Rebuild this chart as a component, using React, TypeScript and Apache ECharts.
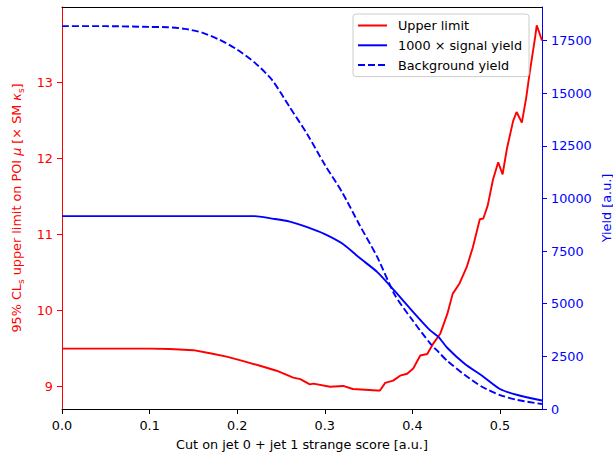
import React, { useEffect, useRef } from "react";
import * as echarts from "echarts";

// x positions (cut value) for the yield curves
const cutX = [0, 0.05, 0.1, 0.12, 0.14, 0.16, 0.18, 0.2, 0.22, 0.24, 0.26, 0.28, 0.3, 0.32, 0.34, 0.36, 0.38, 0.4, 0.42, 0.43, 0.44, 0.46, 0.48, 0.5, 0.52, 0.548];
const signalYield = [9160, 9160, 9160, 9160, 9160, 9160, 9160, 9160, 9160, 9041, 8899, 8638, 8306, 7855, 7166, 6502, 5600, 4651, 3749, 3417, 2895, 2136, 1566, 949, 664, 403];
const backgroundYield = [18180, 18180, 18144, 18130, 18054, 17873, 17532, 17067, 16450, 15614, 14333, 13052, 11600, 10280, 8714, 7214, 5410, 4224, 3132, 2700, 2278, 1614, 1044, 664, 427, 237];

// x positions and values of the upper limit
const limitX = [0, 0.05, 0.1, 0.123, 0.15, 0.169, 0.188, 0.206, 0.226, 0.245, 0.264, 0.272, 0.283, 0.287, 0.306, 0.321, 0.332, 0.36, 0.363, 0.369, 0.378, 0.386, 0.394, 0.401, 0.409, 0.417, 0.424, 0.432, 0.44, 0.446, 0.454, 0.462, 0.469, 0.477, 0.481, 0.486, 0.492, 0.498, 0.503, 0.508, 0.515, 0.519, 0.525, 0.53, 0.534, 0.54, 0.542, 0.548];
const upperLimit = [9.5, 9.5, 9.5, 9.495, 9.48, 9.44, 9.395, 9.34, 9.275, 9.21, 9.12, 9.1, 9.03, 9.04, 9.0, 9.01, 8.97, 8.95, 8.95, 9.05, 9.08, 9.145, 9.17, 9.24, 9.41, 9.43, 9.57, 9.7, 9.96, 10.22, 10.36, 10.57, 10.83, 11.2, 11.21, 11.38, 11.72, 11.95, 11.79, 12.13, 12.49, 12.61, 12.47, 12.8, 13.13, 13.58, 13.75, 13.55];

const xTicks = [0, 0.1, 0.2, 0.3, 0.4, 0.5];
const leftTicks = [9, 10, 11, 12, 13];
const rightTicks = [0, 2500, 5000, 7500, 10000, 12500, 15000, 17500];

const FONT = "DejaVu Sans";
const FS = 12.8;
const RED = "#ff0000";
const BLUE = "#0000ff";

export default function App() {
  const ref = useRef<HTMLDivElement>(null);
  useEffect(() => {
    if (!ref.current) return;
    const chart = echarts.init(ref.current, undefined, { renderer: "svg" });
    chart.setOption({
      animation: false,
      backgroundColor: "#ffffff",
      grid: { left: 62, right: 71, top: 7, bottom: 47, show: false, containLabel: false, outerBoundsMode: "none" },
      legend: {
        orient: "vertical",
        left: 353,
        top: 14,
        itemWidth: 29,
        itemHeight: 14,
        itemGap: 6.8,
        padding: [5, 7, 5, 4],
        backgroundColor: "rgba(255,255,255,0.8)",
        borderColor: "#cccccc",
        borderWidth: 1,
        borderRadius: 3,
        selectedMode: false,
        itemStyle: { color: "rgba(0,0,0,0)", borderWidth: 0, opacity: 0 },
        textStyle: { fontSize: FS, fontFamily: FONT, color: "#000", padding: [0, 0, 0, 6] },
        data: ["Upper limit", "1000 × signal yield", "Background yield"],
      },
      graphic: [
        {
          type: "text",
          x: 606,
          y: 208,
          rotation: Math.PI / 2,
          style: {
            text: "Yield [a.u.]",
            fill: BLUE,
            fontSize: FS,
            fontFamily: FONT,
            align: "center",
            verticalAlign: "middle",
          },
        },
      ],
      xAxis: [
        {
          type: "value",
          min: 0,
          max: 0.548,
          position: "bottom",
          axisLine: { show: true, onZero: false, lineStyle: { color: "#000", width: 1 } },
          axisTick: { show: true, length: 5, customValues: xTicks, lineStyle: { color: "#000" } },
          axisLabel: {
            customValues: xTicks,
            formatter: (v: number) => v.toFixed(1),
            color: "#000",
            fontSize: FS,
            fontFamily: FONT,
            margin: 10,
          },
          splitLine: { show: false },
          name: "Cut on jet 0 + jet 1 strange score [a.u.]",
          nameLocation: "middle",
          nameGap: 29,
          nameTextStyle: { color: "#000", fontSize: FS, fontFamily: FONT },
        },
        {
          type: "value",
          min: 0,
          max: 0.548,
          position: "top",
          axisLine: { show: true, onZero: false, lineStyle: { color: "#000", width: 1 } },
          axisTick: { show: false },
          axisLabel: { show: false },
          splitLine: { show: false },
        },
      ],
      yAxis: [
        {
          type: "value",
          position: "left",
          min: 8.707,
          max: 13.99,
          axisLine: { show: true, onZero: false, lineStyle: { color: RED, width: 1 } },
          axisTick: { show: true, length: 5, customValues: leftTicks, lineStyle: { color: RED } },
          axisLabel: {
            customValues: leftTicks,
            color: RED,
            fontSize: FS,
            fontFamily: FONT,
            margin: 9,
          },
          splitLine: { show: false },
          name: "95% CL{s|s} upper limit on POI {i|μ} [× SM {i|κ}{s|s}]",
          nameLocation: "middle",
          nameRotate: 90,
          nameGap: 35,
          nameTextStyle: {
            color: RED,
            fontSize: FS,
            fontFamily: FONT,
            lineHeight: 18,
            rich: {
              s: { color: RED, fontSize: 9, fontFamily: FONT, lineHeight: 9, verticalAlign: "bottom" },
              i: { color: RED, fontSize: FS, fontFamily: FONT, fontStyle: "italic", lineHeight: 18 },
            },
          },
        },
        {
          type: "value",
          position: "right",
          min: 0,
          max: 19090,
          axisLine: { show: true, onZero: false, lineStyle: { color: BLUE, width: 1 } },
          axisTick: { show: true, length: 5, customValues: rightTicks, lineStyle: { color: BLUE } },
          axisLabel: {
            customValues: rightTicks,
            formatter: (v: number) => String(v),
            color: BLUE,
            fontSize: FS,
            fontFamily: FONT,
            margin: 9,
          },
          splitLine: { show: false },
        },
      ],
      series: [
        {
          name: "Upper limit",
          type: "line",
          xAxisIndex: 0,
          yAxisIndex: 0,
          symbol: "none",
          data: limitX.map((x, i) => [x, upperLimit[i]]),
          lineStyle: { color: RED, width: 1.9 },
          itemStyle: { color: RED },
        },
        {
          name: "1000 × signal yield",
          type: "line",
          xAxisIndex: 0,
          yAxisIndex: 1,
          symbol: "none",
          smooth: 0.25,
          data: cutX.map((x, i) => [x, signalYield[i]]),
          lineStyle: { color: BLUE, width: 1.9 },
          itemStyle: { color: BLUE },
        },
        {
          name: "Background yield",
          type: "line",
          xAxisIndex: 0,
          yAxisIndex: 1,
          symbol: "none",
          smooth: 0.25,
          data: cutX.map((x, i) => [x, backgroundYield[i]]),
          lineStyle: { color: BLUE, width: 1.9, type: [7, 3] },
          itemStyle: { color: BLUE },
        },
      ],
    });
    return () => chart.dispose();
  }, []);
  return (
    <div
      ref={ref}
      style={{ position: "absolute", left: 0, top: 0, width: 613, height: 456 }}
    />
  );
}
